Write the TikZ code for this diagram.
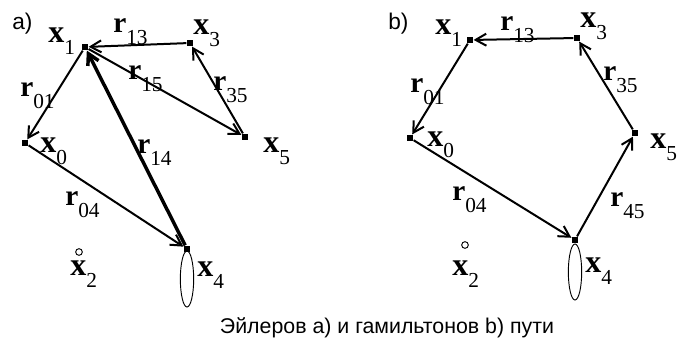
\documentclass[tikz,border=0pt]{standalone}
\usepackage{fontspec}
\setmainfont{Liberation Serif}
\newfontfamily\capfont{Liberation Sans}
\usetikzlibrary{arrows.meta,shapes.geometric}
% vertex and edge names with subscripts
\newcommand{\xs}[1]{{\fontsize{24}{24}\selectfont\bfseries x}\raisebox{-9pt}{\fontsize{16}{16}\selectfont #1}}
\newcommand{\rs}[1]{{\fontsize{22}{22}\selectfont\bfseries r}\raisebox{-9pt}{\fontsize{16}{16}\selectfont #1}}
\begin{document}
\begin{tikzpicture}[x=0.75pt,y=-0.75pt,
    vert/.style={fill,inner sep=0pt,minimum size=5pt},
    free/.style={draw,circle,inner sep=0pt,minimum size=5pt,line width=0.7pt},
    loopy/.style={draw,ellipse,inner sep=0pt,line width=0.7pt,minimum width=10pt,minimum height=42pt},
    edge/.style={line width=1.5pt,-{Straight Barb[length=8pt,width=9pt]}},
    lab/.style={anchor=base west,inner sep=0pt},
    tag/.style={anchor=base west,inner sep=0pt,font=\capfont\fontsize{17}{17}\selectfont}]
  \useasboundingbox (0,0) rectangle (680,342);
  % a) Euler path
  \node[tag] (ta) at (12,30) {a)};
  \node[vert] (a0) at (25,143) {};
  \node[vert] (a1) at (85,47) {};
  \node[free] (a2) at (79,252) {};
  \node[vert] (a3) at (190,43) {};
  \node[vert] (a4) at (187,249) {};
  \node[vert] (a5) at (245,137) {};
  \node[loopy] (a4e) at (187,279) {};
  \draw[edge] (a1) -- (a0);
  \draw[edge] (a0) -- (a4);
  \draw[edge,line width=2.6pt] (a4) -- (a1);
  \draw[edge] (a1) -- (a5);
  \draw[edge] (a5) -- (a3);
  \draw[edge] (a3) -- (a1);
  \node[lab] at (48,43) {\xs{1}};
  \node[lab] at (193,35) {\xs{3}};
  \node[lab] at (263,152) {\xs{5}};
  \node[lab] at (40,152) {\xs{0}};
  \node[lab] at (197,276) {\xs{4}};
  \node[lab] at (70,275) {\xs{2}};
  \node[lab] at (113,33) {\rs{13}};
  \node[lab] at (128,80) {\rs{15}};
  \node[lab] at (213,91) {\rs{35}};
  \node[lab] at (20,97) {\rs{01}};
  \node[lab] at (137,153) {\rs{14}};
  \node[lab] at (65,205) {\rs{04}};
  % b) Hamilton path
  \node[tag] (tb) at (388,30) {b)};
  \node[vert] (b0) at (410,138) {};
  \node[vert] (b1) at (470,40) {};
  \node[free] (b2) at (465,245) {};
  \node[vert] (b3) at (577,38) {};
  \node[vert] (b4) at (575,240) {};
  \node[vert] (b5) at (635,133) {};
  \node[loopy] (b4e) at (575,272) {};
  \draw[edge] (b3) -- (b1);
  \draw[edge] (b1) -- (b0);
  \draw[edge] (b0) -- (b4);
  \draw[edge] (b4) -- (b5);
  \draw[edge] (b5) -- (b3);
  \node[lab] at (435,35) {\xs{1}};
  \node[lab] at (580,28) {\xs{3}};
  \node[lab] at (650,148) {\xs{5}};
  \node[lab] at (427,146) {\xs{0}};
  \node[lab] at (585,272) {\xs{4}};
  \node[lab] at (452,275) {\xs{2}};
  \node[lab] at (500,31) {\rs{13}};
  \node[lab] at (603,81) {\rs{35}};
  \node[lab] at (410,93) {\rs{01}};
  \node[lab] at (452,200) {\rs{04}};
  \node[lab] at (610,206) {\rs{45}};
  % caption
  \node[anchor=base,inner sep=0pt,font=\capfont\fontsize{16}{16}\selectfont] (cap) at (387,333) {Эйлеров а) и гамильтонов b) пути};
\end{tikzpicture}
\end{document}
